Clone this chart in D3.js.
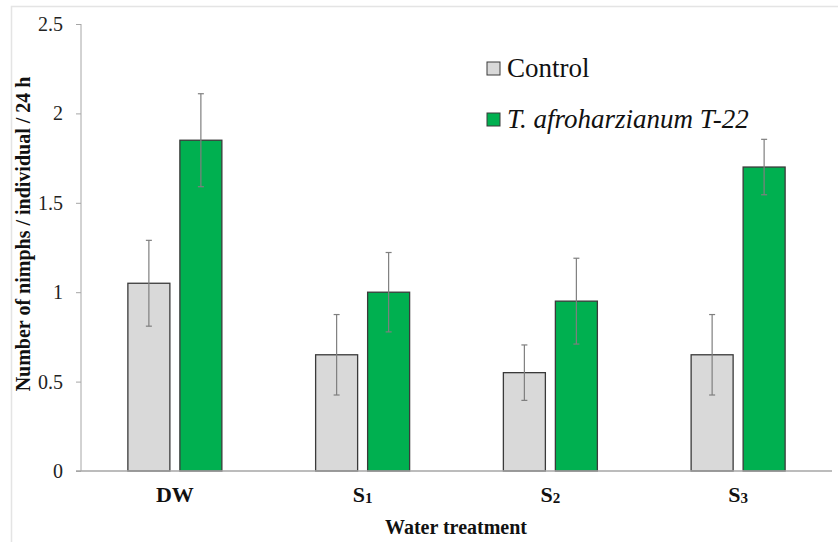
<!DOCTYPE html>
<html>
<head>
<meta charset="utf-8">
<script src="https://cdn.jsdelivr.net/npm/d3@7"></script>
<style>
body { margin: 0; background: #fff; }
svg text { font-family: "Liberation Serif", "Times New Roman", Tinos, "DejaVu Serif", serif !important; }
</style>
</head>
<body>
<script>
// data
const categories = ["DW", "S1", "S2", "S3"];
const series = ["Control", "T. afroharzianum T-22"];
const controlMeans = [1.05, 0.65, 0.55, 0.65];
const controlErr = [0.24, 0.225, 0.155, 0.225];
const trichoMeans = [1.85, 1.0, 0.95, 1.70];
const trichoErr = [0.26, 0.222, 0.24, 0.155];
const yTicks = [0, 0.5, 1, 1.5, 2, 2.5];

var width = 838, height = 542;
var colors = ["#d9d9d9", "#00b050"];
var serif = "'Liberation Serif', 'Times New Roman', Tinos, 'DejaVu Serif', serif";

var svg = d3.select("body").append("svg")
  .attr("width", width).attr("height", height)
  .style("font-family", serif);

// light frame
svg.append("path").attr("d", "M11.5,542V6.5H838")
  .attr("fill", "none").attr("stroke", "#e4e4e4").attr("stroke-width", 1.5);

var x0 = d3.scaleBand().domain(categories).range([81, 832]);
var x1 = d3.scaleBand().domain(series).range([-47, 47]).paddingInner(10 / 52);
var y = d3.scaleLinear().domain([0, 2.5]).range([471, 24]);

var rows = [];
categories.forEach(function (c, i) {
  rows.push({cat: c, s: 0, v: controlMeans[i], e: controlErr[i]});
  rows.push({cat: c, s: 1, v: trichoMeans[i], e: trichoErr[i]});
});

// y axis
var yAxis = svg.append("g").attr("transform", "translate(81,0)")
  .call(d3.axisLeft(y).tickValues(yTicks).tickFormat(d3.format("")).tickSize(5).tickPadding(13));
yAxis.attr("font-family", null);
yAxis.select(".domain").attr("stroke", "#a6a6a6").attr("d", "M0,24V471");
yAxis.selectAll(".tick line").attr("stroke", "#a6a6a6");
yAxis.selectAll(".tick text").attr("font-size", 20).attr("fill", "#222")
  .style("font-family", serif);

// bars
svg.append("g").selectAll("rect").data(rows).enter().append("rect")
  .attr("x", function (d) { return x0(d.cat) + x0.bandwidth() / 2 + x1(series[d.s]); })
  .attr("width", x1.bandwidth())
  .attr("y", function (d) { return y(d.v); })
  .attr("height", function (d) { return y(0) - y(d.v); })
  .attr("fill", function (d) { return colors[d.s]; })
  .attr("stroke", "#3a3a3a").attr("stroke-width", 1.3);

// x axis line
svg.append("line").attr("x1", 76).attr("x2", 832).attr("y1", y(0)).attr("y2", y(0))
  .attr("stroke", "#a6a6a6").attr("stroke-width", 1.3);

// error bars
var eb = svg.append("g").attr("stroke", "#7f7f7f").attr("stroke-width", 1.2);
rows.forEach(function (d) {
  var cx = x0(d.cat) + x0.bandwidth() / 2 + x1(series[d.s]) + x1.bandwidth() / 2;
  var t = y(d.v + d.e), b = y(d.v - d.e);
  eb.append("line").attr("x1", cx).attr("x2", cx).attr("y1", t).attr("y2", b);
  eb.append("line").attr("x1", cx - 3).attr("x2", cx + 3).attr("y1", t).attr("y2", t);
  eb.append("line").attr("x1", cx - 3).attr("x2", cx + 3).attr("y1", b).attr("y2", b);
});

// category labels
var labs = svg.append("g").selectAll("text").data(categories).enter().append("text")
  .attr("x", function (d) { return x0(d) + x0.bandwidth() / 2; })
  .attr("y", 502).attr("text-anchor", "middle")
  .attr("font-size", 22).attr("font-weight", "bold").attr("fill", "#111")
  .style("font-family", serif);
labs.each(function (d) {
  var t = d3.select(this);
  if (d.length === 2 && d[0] === "S") {
    t.append("tspan").text("S");
    t.append("tspan").attr("font-size", 15).attr("dy", 1).text(d[1]);
  } else {
    t.text(d);
  }
});

// axis titles
svg.append("text").attr("x", 456).attr("y", 534).attr("text-anchor", "middle")
  .attr("font-size", 20).attr("font-weight", "bold").attr("fill", "#111")
  .style("font-family", serif)
  .text("Water treatment");
svg.append("text").attr("transform", "translate(30,234) rotate(-90)")
  .attr("text-anchor", "middle")
  .attr("font-size", 20).attr("font-weight", "bold").attr("fill", "#111")
  .style("font-family", serif)
  .text("Number of nimphs / individual / 24 h");

// legend
var legend = svg.append("g").selectAll("g").data(series).enter().append("g")
  .attr("transform", function (d, i) { return "translate(487," + (62 + i * 51) + ")"; });
legend.append("rect").attr("width", 13).attr("height", 13)
  .attr("fill", function (d, i) { return colors[i]; })
  .attr("stroke", "#3a3a3a").attr("stroke-width", 1);
legend.append("text").attr("x", 20).attr("y", 15)
  .attr("font-size", 27).attr("fill", "#111")
  .style("font-family", serif)
  .attr("font-style", function (d, i) { return i === 1 ? "italic" : "normal"; })
  .text(function (d) { return d; });
</script>
</body>
</html>
